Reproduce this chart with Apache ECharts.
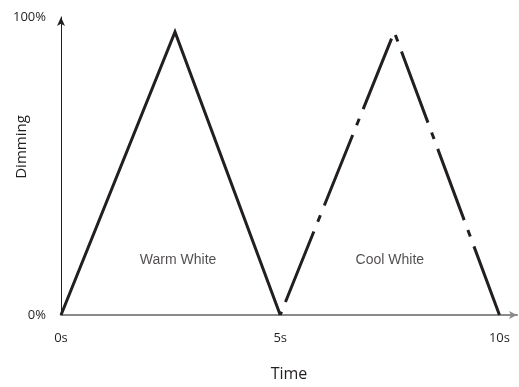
<!DOCTYPE html>
<html>
<head>
<meta charset="utf-8">
<script src="https://cdn.jsdelivr.net/npm/echarts@6/dist/echarts.min.js"></script>
<style>
  html, body { margin: 0; padding: 0; background: #fff; }
  #chart { width: 519px; height: 387px; }
</style>
</head>
<body>
<div id="chart"></div>
<script>
// time (s) / dimming (%) points
var warmTime = [0, 2.6, 5];
var warmDim = [0, 95, 0];
var coolTime = [5, 7.6, 10];
var coolDim = [0, 95, 0];
var xTicks = [0, 5, 10];
var yTicks = [0, 100];
var areaNames = ['Warm White', 'Cool White'];
var areaPos = [[2.67, 18.5], [7.5, 18.5]];

var ink = '#231f20';
var chart = echarts.init(document.getElementById('chart'));

function pairs(xs, ys) {
    return xs.map(function (x, i) { return [x, ys[i]]; });
}

var option = {
    animation: false,
    backgroundColor: '#fff',
    grid: { left: 61, right: 2, top: 17, bottom: 60 },
    xAxis: {
        type: 'value',
        min: 0,
        max: 10.4,
        interval: 5,
        splitLine: { show: false },
        axisTick: { show: false },
        axisLine: {
            lineStyle: { color: '#8a8a8a', width: 2 },
            symbol: ['none', 'arrow'],
            symbolSize: [6, 8]
        },
        axisLabel: {
            margin: 17,
            color: ink,
            fontFamily: 'Open Sans',
            fontSize: 13,
            showMaxLabel: false,
            formatter: function (v) {
                return xTicks.indexOf(v) >= 0 ? v + 's' : '';
            }
        },
        name: 'Time',
        nameLocation: 'middle',
        nameGap: 51,
        nameTextStyle: { color: ink, fontFamily: 'Open Sans', fontSize: 16 }
    },
    yAxis: {
        type: 'value',
        min: 0,
        max: 100,
        interval: 100,
        splitLine: { show: false },
        axisTick: { show: false },
        axisLine: {
            lineStyle: { color: ink, width: 1 },
            symbol: ['none', 'arrow'],
            symbolSize: [6, 9]
        },
        axisLabel: {
            margin: 15,
            color: ink,
            fontFamily: 'Open Sans',
            fontSize: 13,
            formatter: function (v) {
                return yTicks.indexOf(v) >= 0 ? v + '%' : '';
            }
        }
    },
    graphic: [{
        type: 'text',
        x: 22,
        y: 147,
        rotation: Math.PI / 2,
        style: {
            text: 'Dimming',
            fill: ink,
            font: '15px "Open Sans"',
            align: 'center',
            verticalAlign: 'middle'
        }
    }],
    series: [{
        name: 'Warm White',
        type: 'line',
        data: pairs(warmTime, warmDim),
        symbol: 'none',
        lineStyle: { color: ink, width: 3, cap: 'butt', join: 'miter' },
        z: 3
    }, {
        name: 'Cool White',
        type: 'line',
        data: pairs(coolTime, coolDim),
        symbol: 'none',
        lineStyle: {
            color: ink,
            width: 3,
            type: [76, 10.5, 7, 10.5],
            dashOffset: 90,
            cap: 'butt',
            join: 'miter'
        },
        z: 3
    }, {
        type: 'scatter',
        symbolSize: 0,
        silent: true,
        data: areaPos.map(function (p, i) {
            return { value: p, name: areaNames[i] };
        }),
        label: {
            show: true,
            position: 'inside',
            formatter: '{b}',
            color: ink,
            fontFamily: 'Liberation Sans',
            fontSize: 14
        }
    }]
};

chart.setOption(option);
</script>
</body>
</html>
